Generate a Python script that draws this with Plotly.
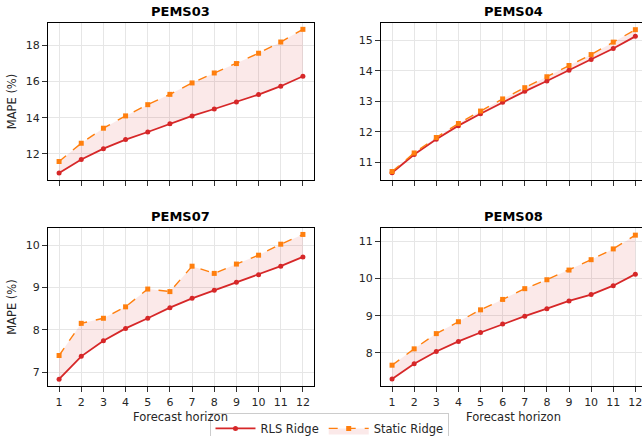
import plotly.graph_objects as go

horizons = list(range(1, 13))
datasets = ["PEMS03", "PEMS04", "PEMS07", "PEMS08"]

rls_pems03 = [10.95, 11.69, 12.29, 12.79, 13.21, 13.66, 14.10, 14.48, 14.87, 15.28, 15.74, 16.29]
static_pems03 = [11.58, 12.59, 13.42, 14.10, 14.72, 15.29, 15.92, 16.47, 16.99, 17.56, 18.18, 18.88]

rls_pems04 = [10.65, 11.25, 11.75, 12.20, 12.59, 12.97, 13.33, 13.67, 14.02, 14.38, 14.74, 15.14]
static_pems04 = [10.69, 11.30, 11.81, 12.27, 12.68, 13.08, 13.45, 13.81, 14.18, 14.54, 14.95, 15.36]

rls_pems07 = [6.83, 7.37, 7.74, 8.03, 8.27, 8.52, 8.74, 8.93, 9.12, 9.30, 9.50, 9.72]
static_pems07 = [7.39, 8.15, 8.27, 8.54, 8.96, 8.90, 9.50, 9.33, 9.55, 9.76, 10.02, 10.25]

rls_pems08 = [7.30, 7.71, 8.04, 8.31, 8.55, 8.78, 8.99, 9.19, 9.40, 9.57, 9.81, 10.12]
static_pems08 = [7.67, 8.11, 8.52, 8.84, 9.16, 9.44, 9.73, 9.97, 10.23, 10.51, 10.80, 11.17]

rls_all = [rls_pems03, rls_pems04, rls_pems07, rls_pems08]
static_all = [static_pems03, static_pems04, static_pems07, static_pems08]

y_ranges = [[10.56, 19.23], [10.41, 15.58], [6.67, 10.40], [7.11, 11.36]]
y_ticks = [[12, 14, 16, 18], [11, 12, 13, 14, 15], [7, 8, 9, 10], [8, 9, 10, 11]]

RED = "#d62728"
ORANGE = "#ff7f0e"
FILL = "rgba(214,39,40,0.10)"

x_domains = [[0.0, 0.4478], [0.5606, 1.0]]
y_domains = [[0.5675, 1.0], [0.0, 0.435]]
x_ranges = [[0.5, 12.5], [0.5, 12.3]]

fig = go.Figure()
font_family = "DejaVu Sans"
TXT = "#262626"

for i, name in enumerate(datasets):
    row, col = divmod(i, 2)
    ax = "" if i == 0 else str(i + 1)
    xref = "x" + ax
    yref = "y" + ax
    fig.add_trace(go.Scatter(
        x=horizons, y=rls_all[i], mode="lines+markers", name="RLS Ridge",
        line=dict(color=RED, width=1.8), marker=dict(symbol="circle", size=5, color=RED),
        xaxis=xref, yaxis=yref, showlegend=(i == 0), legendgroup="rls"))
    fig.add_trace(go.Scatter(
        x=horizons, y=static_all[i], mode="lines+markers", name="Static Ridge",
        line=dict(color=ORANGE, width=1.4, dash="dash"),
        marker=dict(symbol="square", size=5, color=ORANGE),
        fill="tonexty", fillcolor=FILL,
        xaxis=xref, yaxis=yref, showlegend=(i == 0), legendgroup="static"))

    xa = dict(
        domain=x_domains[col], range=x_ranges[col], tickmode="array", tickvals=horizons,
        showticklabels=(row == 1), ticks="outside", ticklen=5, tickcolor="#333",
        showline=True, linecolor="black", linewidth=1, mirror=True,
        showgrid=True, gridcolor="#e6e6e6", gridwidth=0.8, zeroline=False,
        automargin=False, ticklabeloverflow="allow", ticklabelstandoff=1,
        anchor=yref, tickfont=dict(size=11, color=TXT, family=font_family))
    ya = dict(
        domain=y_domains[row], range=y_ranges[i], tickmode="array", tickvals=y_ticks[i],
        ticks="outside", ticklen=5, tickcolor="#333",
        showline=True, linecolor="black", linewidth=1, mirror=(col == 0),
        showgrid=True, gridcolor="#e6e6e6", gridwidth=0.8, zeroline=False,
        automargin=False,
        anchor=xref, tickfont=dict(size=11, color=TXT, family=font_family))
    if col == 0:
        ya["title"] = dict(text="MAPE (%)", font=dict(size=11.5, color=TXT, family=font_family), standoff=6)
    fig.layout["xaxis" + ax] = xa
    fig.layout["yaxis" + ax] = ya

title_x = [(0.0 + 0.4478) / 2, (0.5606 + 1.0084) / 2]
for i, name in enumerate(datasets):
    row, col = divmod(i, 2)
    fig.add_annotation(
        text="<b>%s</b>" % name, xref="paper", yref="paper",
        x=title_x[col], xanchor="center", y=y_domains[row][1], yanchor="bottom", yshift=2,
        showarrow=False, font=dict(size=13, color="black", family=font_family))
    if row == 1:
        fig.add_annotation(
            text="Forecast horizon", xref="paper", yref="paper",
            x=title_x[col], xanchor="center", y=0, yanchor="top", yshift=-22,
            showarrow=False, font=dict(size=11.5, color=TXT, family=font_family))

fig.update_layout(
    width=642, height=436,
    margin=dict(l=48, r=0, t=23, b=50),
    paper_bgcolor="white", plot_bgcolor="white",
    font=dict(family=font_family, color=TXT),
    legend=dict(
        orientation="h", xref="container", yref="container",
        x=0.514, xanchor="center", y=0.053, yanchor="top",
        bordercolor="#cccccc", borderwidth=1, bgcolor="white",
        font=dict(size=11.5, color=TXT, family=font_family),
        itemwidth=40, tracegroupgap=0),
)

fig.write_html("out.html", config={"displayModeBar": False},
               post_script="document.body.style.margin='0';")
